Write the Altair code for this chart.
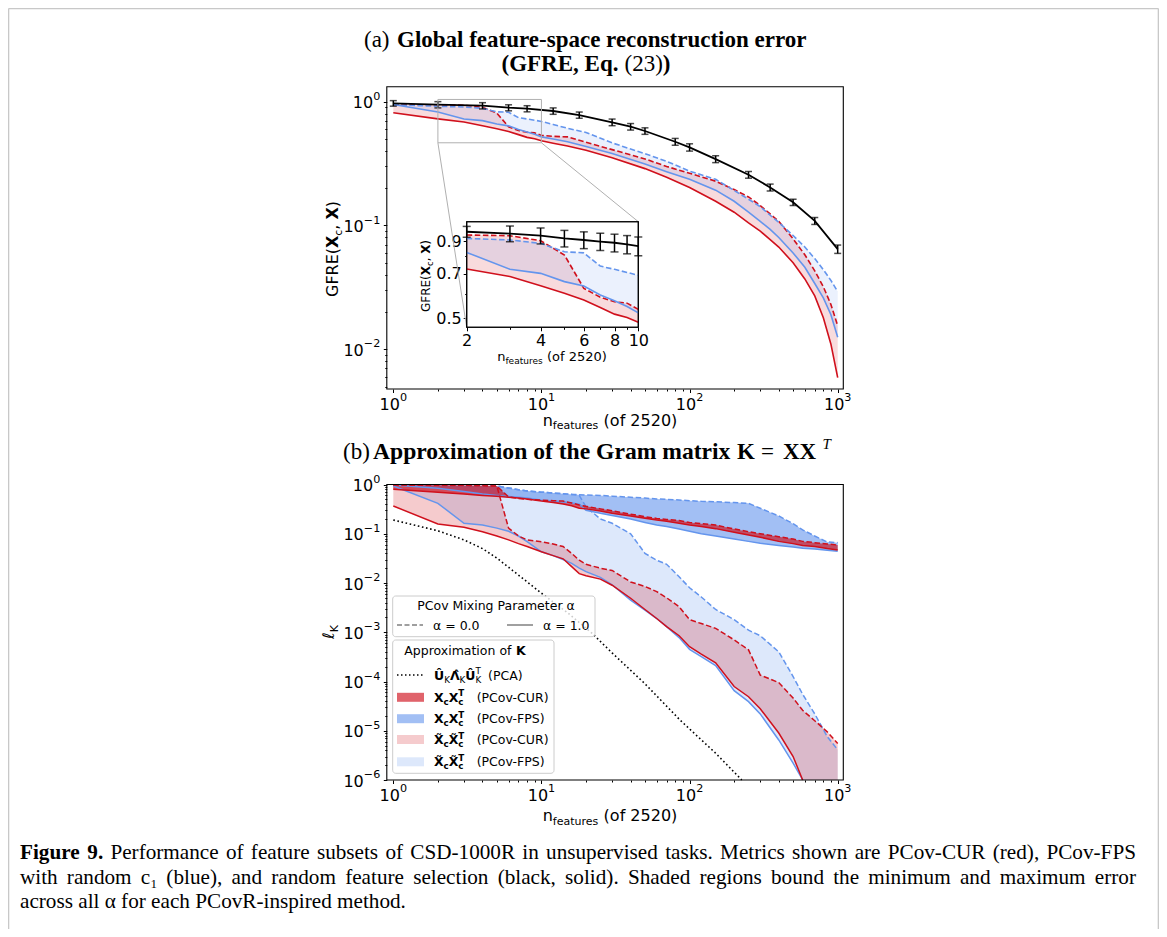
import math
import unicodedata
import altair as alt
import pandas as pd

# ============================ DATA ============================
# ---- panel (a): GFRE, random feature selection (black, with error bars)
n_rand = [1, 2, 4, 6, 8, 12, 18, 30, 40, 50, 80, 100, 150, 250, 350, 500, 700, 1000]
gfre_rand = [0.970, 0.946, 0.928, 0.894, 0.878, 0.841, 0.780, 0.682, 0.628, 0.580,
             0.475, 0.428, 0.344, 0.257, 0.203, 0.154, 0.109, 0.0645]
gfre_rand_err = [0.050, 0.055, 0.054, 0.050, 0.050, 0.050, 0.045, 0.042, 0.038, 0.035,
                 0.030, 0.029, 0.022, 0.016, 0.013, 0.009, 0.007, 0.005]
# inset (zoom on 2..10 features)
n_rand_inset = [2, 3, 4, 5, 6, 7, 8, 9, 10]
gfre_rand_inset = [0.966, 0.952, 0.937, 0.918, 0.907, 0.896, 0.888, 0.877, 0.866]
gfre_rand_inset_err = [0.040, 0.057, 0.057, 0.058, 0.058, 0.059, 0.060, 0.061, 0.062]

# ---- panel (a): PCov-CUR (red) / PCov-FPS (blue), alpha = 1.0 (solid) and 0.0 (dashed)
n_a = [1, 2, 3, 4, 5, 6, 7, 8, 9, 10, 12, 15, 20, 30, 50, 70, 100, 150, 200, 250,
       300, 350, 400, 500, 600, 700, 800, 900, 1000]
gfre_cur_a1 = [0.815, 0.727, 0.686, 0.640, 0.604, 0.574, 0.542, 0.515, 0.502, 0.484,
               0.462, 0.438, 0.405, 0.352, 0.288, 0.245, 0.203, 0.157, 0.128, 0.105,
               0.090, 0.077, 0.067, 0.050, 0.037, 0.027, 0.018, 0.011, 0.0059]
gfre_cur_a0 = [0.945, 0.942, 0.937, 0.902, 0.809, 0.627, 0.586, 0.566, 0.560, 0.534,
               0.525, 0.520, 0.470, 0.410, 0.345, 0.300, 0.264, 0.228, 0.195, 0.170,
               0.145, 0.124, 0.108, 0.078, 0.058, 0.043, 0.032, 0.023, 0.0155]
gfre_fps_a1 = [0.950, 0.825, 0.725, 0.703, 0.660, 0.638, 0.596, 0.570, 0.546, 0.520,
               0.500, 0.475, 0.435, 0.382, 0.314, 0.272, 0.236, 0.193, 0.157, 0.128,
               0.108, 0.093, 0.080, 0.060, 0.046, 0.034, 0.026, 0.019, 0.0125]
gfre_fps_a0 = [0.945, 0.918, 0.907, 0.884, 0.829, 0.822, 0.743, 0.725, 0.708, 0.693,
               0.655, 0.610, 0.565, 0.465, 0.380, 0.330, 0.275, 0.236, 0.192, 0.163,
               0.142, 0.121, 0.106, 0.083, 0.067, 0.054, 0.044, 0.036, 0.0292]

# ---- panel (b): error of the Gram-matrix approximation
n_b = [1, 2, 3, 4, 5, 6, 7, 8, 10, 12, 14, 16, 18, 20, 25, 30, 40, 50, 60, 70, 85, 100,
       120, 150, 200, 250, 300, 400, 500, 580, 700, 850, 1000]
# X_c X_c^T
lk_cur_a1 = [0.80, 0.70, 0.64, 0.60, 0.575, 0.55, 0.53, 0.51, 0.46, 0.43, 0.40, 0.37, 0.33,
             0.32, 0.29, 0.26, 0.23, 0.206, 0.19, 0.18, 0.163, 0.15, 0.14, 0.127, 0.107,
             0.094, 0.085, 0.07, 0.063, 0.058, 0.055, 0.05, 0.047]
lk_cur_a0 = [0.977, 0.96, 0.95, 0.94, 0.93, 0.56, 0.52, 0.50, 0.48, 0.47, 0.46, 0.42, 0.385,
             0.36, 0.32, 0.294, 0.25, 0.222, 0.205, 0.195, 0.185, 0.17, 0.16, 0.15, 0.125,
             0.11, 0.10, 0.087, 0.078, 0.07, 0.066, 0.062, 0.059]
lk_fps_a1 = [0.977, 0.84, 0.72, 0.64, 0.60, 0.57, 0.55, 0.53, 0.48, 0.46, 0.44, 0.42, 0.40,
             0.30, 0.26, 0.235, 0.20, 0.17, 0.15, 0.14, 0.125, 0.112, 0.10, 0.09, 0.078,
             0.07, 0.064, 0.058, 0.054, 0.051, 0.049, 0.046, 0.044]
lk_fps_a0 = [0.977, 0.96, 0.95, 0.94, 0.93, 0.85, 0.78, 0.74, 0.70, 0.67, 0.65, 0.63, 0.62,
             0.61, 0.60, 0.58, 0.55, 0.53, 0.51, 0.50, 0.485, 0.47, 0.455, 0.445, 0.43,
             0.415, 0.33, 0.23, 0.16, 0.12, 0.09, 0.068, 0.066]
# X~_c X~_c^T
lkt_cur_a1 = [0.366, 0.158, 0.135, 0.11, 0.09, 0.075, 0.063, 0.055, 0.043, 0.036, 0.031,
              0.0215, 0.0155, 0.014, 0.012, 0.0090, 0.0049, 0.0029, 0.0019, 0.0013,
              0.00085, 0.00051, 0.00036, 0.00024, 7.9e-5, 4.9e-5, 2.8e-5, 9e-6, 3e-6,
              1e-6, None, None, None]
lkt_fps_a1 = [0.93, 0.415, 0.163, 0.15, 0.13, 0.112, 0.09, 0.069, 0.043, 0.036, 0.030,
              0.025, 0.020, 0.017, 0.013, 0.0092, 0.0045, 0.0028, 0.0019, 0.0013,
              0.00078, 0.00045, 0.00032, 0.00021, 6.5e-5, 3.9e-5, 2.2e-5, 6.5e-6, 2.2e-6,
              1e-6, None, None, None]
lkt_cur_a0 = [0.977, 0.96, 0.95, 0.94, 0.93, 0.13, 0.09, 0.075, 0.069, 0.062, 0.055, 0.040,
              0.029, 0.024, 0.020, 0.018, 0.0105, 0.0085, 0.0067, 0.005, 0.0033, 0.0018,
              0.0015, 0.0012, 0.0007, 0.00044, 0.000135, 9.5e-5, 4.6e-5, 2.6e-5, 1.6e-5,
              9.5e-6, 5.5e-6]
lkt_fps_a0 = [0.977, 0.96, 0.95, 0.94, 0.93, 0.85, 0.78, 0.74, 0.70, 0.67, 0.65, 0.63, 0.60,
              0.35, 0.20, 0.163, 0.10, 0.040, 0.029, 0.024, 0.0134, 0.008, 0.0052, 0.0029,
              0.0018, 0.0011, 0.00085, 0.0004, 0.000126, 5.5e-5, 2.2e-5, 7.6e-6, 4.1e-6]
# PCA reference (black dotted)
n_pca = [1, 2, 3, 4, 5, 7, 10, 15, 22, 30, 50, 86, 150, 225]
lk_pca = [0.19, 0.115, 0.075, 0.05, 0.032, 0.0145, 0.0062, 0.0025, 9.5e-4, 3.8e-4,
          9.0e-5, 1.66e-5, 3.5e-6, 1e-6]

# tick values
dec_x = [1, 10, 100, 1000]
dec_a_y = [0.01, 0.1, 1]
dec_b_y = [1e-6, 1e-5, 1e-4, 1e-3, 1e-2, 1e-1, 1]
inset_x_ticks = [2, 4, 6, 8, 10]
inset_x_minor = [3, 5, 7, 9]
inset_y_ticks = [0.5, 0.7, 0.9]
inset_y_minor = [0.6, 0.8]

# caption text
caption_1 = ['Performance', 'of', 'feature', 'subsets', 'of', 'CSD-1000R', 'in', 'unsupervised',
             'tasks.', 'Metrics', 'shown', 'are', 'PCov-CUR', '(red),', 'PCov-FPS']
caption_2 = ['with', 'random', 'c₁', '(blue),', 'and', 'random', 'feature', 'selection',
             '(black,', 'solid).', 'Shaded', 'regions', 'bound', 'the', 'minimum', 'and',
             'maximum', 'error']
caption_3 = 'across all α for each PCovR-inspired method.'

RED = '#d0101c'
BLUE = '#6495ed'

# ============================ LAYOUT (pixel geometry) ============================
OFF = 8
W, H = 1151, 921


def px(x):
    return x - OFF


def py(y):
    return y - OFF


def log_domain(pa, la, pb, lb, r0, r1):
    k = (lb - la) / (pb - pa)
    return [10 ** (la + (r0 - pa) * k), 10 ** (la + (r1 - pa) * k)]


XL0, XL3 = 393.3, 837.7
AL, AR, AT, AB = 386.8, 843.3, 86.7, 389.0
xdomA = log_domain(XL0, 0, XL3, 3, AL, AR)
ydomA = log_domain(101.7, 0, 349.3, -2, AB, AT)
IL, IR, IT, IB = 466.7, 638.3, 221.7, 327.3
xdomI = [2, 10]
ydomI = log_domain(241.0, math.log10(0.9), 318.0, math.log10(0.5), IB, IT)
BL, BR, BT, BB = 386.8, 843.3, 484.5, 780.0
xdomB = log_domain(XL0, 0, XL3, 3, BL, BR)
ydomB = [1e-6, 1.0]


def a_data_x(p):
    return 10 ** ((p - XL0) * 3 / (XL3 - XL0))


def a_data_y(p):
    return 10 ** (-(p - 101.7) * 2 / (349.3 - 101.7))


def lscale(dom, r0, r1, clamp=False):
    return alt.Scale(type='log', domain=dom, range=[r0, r1], nice=False, clamp=clamp)


xsA, ysA = lscale(xdomA, px(AL), px(AR)), lscale(ydomA, py(AB), py(AT))
xsI, ysI = lscale(xdomI, px(IL), px(IR)), lscale(ydomI, py(IB), py(IT))
xsB, ysB = lscale(xdomB, px(BL), px(BR)), lscale(ydomB, py(BB), py(BT), clamp=True)


def X(f, s, axis=None):
    return alt.X(f, type='quantitative', scale=s, axis=axis)


def Y(f, s, axis=None):
    return alt.Y(f, type='quantitative', scale=s, axis=axis)


def line(df, yf, xs, ys, color, width=1.6, dash=None, xf='n'):
    kw = dict(color=color, strokeWidth=width, strokeCap='butt')
    if dash:
        kw['strokeDash'] = dash
    return alt.Chart(df).mark_line(**kw).encode(x=X(xf, xs), y=Y(yf, ys))


def band(df, lo, hi, xs, ys, color, opacity):
    return alt.Chart(df).mark_area(color=color, opacity=opacity).encode(
        x=X('n', xs), y=Y(lo, ys), y2=alt.Y2(hi))


def errbars(df, xs, ys, cap=7, width=1.4):
    r = alt.Chart(df).mark_rule(color='black', strokeWidth=width).encode(
        x=X('n', xs), y=Y('lo', ys), y2=alt.Y2('hi'))
    c1 = alt.Chart(df).mark_tick(color='black', orient='horizontal', size=cap, thickness=width).encode(
        x=X('n', xs), y=Y('lo', ys))
    c2 = alt.Chart(df).mark_tick(color='black', orient='horizontal', size=cap, thickness=width).encode(
        x=X('n', xs), y=Y('hi', ys))
    return [r, c1, c2]


def axis(orient, offset, values, labels=False, expr=None, size=3.5, pad=2.5, fs=16):
    kw = dict(orient=orient, offset=offset, values=values, domain=False, grid=False, title=None,
              ticks=True, tickSize=size, tickColor='black', tickWidth=1, labels=labels)
    if labels:
        kw.update(labelFont='DejaVu Sans', labelFontSize=fs, labelColor='black', labelPadding=pad,
                  labelOverlap=False, labelFlush=False, labelBound=False)
        if expr:
            kw['labelExpr'] = expr
    return alt.Axis(**kw)


def axis_layer(df, yf, xs, ys, xaxis, yaxis):
    return alt.Chart(df).mark_point(opacity=0).encode(x=X('n', xs, xaxis), y=Y(yf, ys, yaxis))


def minor(decades):
    out = []
    for d in decades:
        out += [k * d for k in range(2, 10)]
    return out


DUMMY = pd.DataFrame({'k': [0]})
FS, FSUP = 16, 11.2


def txt(s, x, y, size=16, bold=False, italic=False, align='left', baseline='alphabetic',
        font='DejaVu Sans', angle=None, color='black'):
    kw = dict(text=s, font=font, fontSize=size, fontWeight='bold' if bold else 'normal',
              align=align, baseline=baseline, color=color)
    if italic:
        kw['fontStyle'] = 'italic'
    if angle is not None:
        kw['angle'] = angle
    return alt.Chart(DUMMY).mark_text(**kw).encode(x=alt.value(px(x)), y=alt.value(py(y)))


def rect(x1, y1, x2, y2, **kw):
    return alt.Chart(DUMMY).mark_rect(**kw).encode(
        x=alt.value(px(x1)), x2=alt.value(px(x2)), y=alt.value(py(y1)), y2=alt.value(py(y2)))


def hrule(x1, x2, y, color, width=1.5, dash=None):
    kw = dict(color=color, strokeWidth=width)
    if dash:
        kw['strokeDash'] = dash
    return alt.Chart(DUMMY).mark_rule(**kw).encode(
        x=alt.value(px(x1)), x2=alt.value(px(x2)), y=alt.value(py(y)))


def vrule(x, y1, y2, color, width=1.5):
    return alt.Chart(DUMMY).mark_rule(color=color, strokeWidth=width).encode(
        x=alt.value(px(x)), y=alt.value(py(y1)), y2=alt.value(py(y2)))


# DejaVu Sans advance widths (em)
WR = {' ': .318, '(': .390, ')': .390, ',': .318, '-': .361, '.': .318, '=': .838, '−': .838,
      'A': .684, 'C': .698, 'E': .632, 'F': .575, 'G': .775, 'K': .656, 'M': .863,
      'P': .603, 'R': .695, 'S': .635, 'T': .611, 'U': .732, 'X': .685,
      'a': .613, 'c': .550, 'e': .615, 'f': .352, 'g': .635, 'i': .278, 'm': .974,
      'n': .634, 'o': .612, 'p': .635, 'r': .411, 's': .521, 't': .392, 'u': .634,
      'v': .592, 'x': .592, 'α': .659, 'ℓ': .42, 'Λ': .684, 'Û': .732}
for _d in '0123456789':
    WR[_d] = .636
WB = {'X': .764, 'U': .812, 'K': .775, 'Λ': .774, 'Û': .812, 'c': .593, 'T': .682}

# Times / Liberation Serif advance widths (em)
TR = dict(zip('abcdefghijklmnopqrstuvwxyz',
              [.444, .5, .444, .5, .444, .333, .5, .5, .278, .278, .5, .278, .778, .5, .5, .5, .5,
               .333, .389, .278, .5, .5, .722, .5, .5, .444]))
TR.update(dict(zip('ABCDEFGHIJKLMNOPQRSTUVWXYZ',
                   [.722, .667, .667, .722, .611, .556, .722, .722, .333, .389, .722, .611, .889,
                    .722, .722, .556, .722, .667, .556, .611, .722, .722, .944, .722, .722, .611])))
TR.update({' ': .25, '(': .333, ')': .333, ',': .25, '-': .333, '.': .25, '₁': .33, 'α': .5})
for _d in '0123456789':
    TR[_d] = .5
TBOLD = {'F': .611, 'i': .278, 'g': .5, 'u': .556, 'r': .444, 'e': .444, '9': .5, '.': .25}


def tw(s, size, bold=False):
    t = 0.0
    for ch in s:
        if unicodedata.combining(ch):
            continue
        w = WB.get(ch) if bold else None
        t += w if w else WR.get(ch, 0.6)
    return t * size


def tw_serif(s, size, bold=False):
    return sum((TBOLD.get(ch) if bold else None) or TR.get(ch, 0.5) for ch in s) * size


def justify(tokens, x0, x1, y, size, font):
    widths = [tw_serif(t, size, b) for t, b in tokens]
    gap = (x1 - x0 - sum(widths)) / (len(tokens) - 1)
    out, x = [], x0
    for (t, b), w in zip(tokens, widths):
        out.append(txt(t, x, y, size, bold=b, font=font))
        x += w + gap
    return out


def seg(s, size, bold=False, shift=0.0, advance=True):
    return dict(s=s, size=size, bold=bold, shift=shift, advance=advance)


def rich(segs, x, y, align='left', vertical=False):
    widths = [tw(g['s'], g['size'], g['bold']) if g['advance'] else 0.0 for g in segs]
    total = sum(widths)
    out = []
    cum = 0.0
    if vertical:
        start = y + total / 2 if align == 'center' else y
    else:
        start = x - total / 2 if align == 'center' else x
    for g, w in zip(segs, widths):
        s = g['s']
        lead = tw(s[:len(s) - len(s.lstrip(' '))], g['size'], g['bold'])
        s = s.strip(' ')
        if s:
            if vertical:
                out.append(txt(s, x + g['shift'], start - cum - lead, size=g['size'],
                               bold=g['bold'], angle=270))
            else:
                out.append(txt(s, start + cum + lead, y + g['shift'], size=g['size'], bold=g['bold']))
        cum += w
    return out


def exp_str(v):
    e = int(round(math.log10(v)))
    return str(e) if e >= 0 else '−' + str(-e)


def ylabels_dec(values, ys, right_x):
    """matplotlib-like 10^k labels on a left axis (right-aligned at right_x)."""
    out = []
    widths = {}
    for v in values:
        widths.setdefault(round(tw(exp_str(v), FSUP), 2), []).append(v)
    for w, vals in widths.items():
        df = pd.DataFrame({'v': vals, 't': [exp_str(v) for v in vals]})
        out.append(alt.Chart(df).mark_text(text='10', align='right', baseline='middle', fontSize=FS,
                                           font='DejaVu Sans', color='black', dy=1.5).encode(
            x=alt.value(px(right_x - w)), y=Y('v', ys)))
        out.append(alt.Chart(df).mark_text(align='left', baseline='middle', fontSize=FSUP,
                                           font='DejaVu Sans', color='black', dy=-5).encode(
            x=alt.value(px(right_x - w)), y=Y('v', ys), text=alt.Text('t:N')))
    return out


def xlabels_dec(values, xs, yc):
    w10 = tw('10', FS)
    we = tw('0', FSUP)
    left = -(w10 + we) / 2
    df = pd.DataFrame({'v': values, 't': [exp_str(v) for v in values]})
    a = alt.Chart(df).mark_text(text='10', align='left', baseline='middle', fontSize=FS,
                                font='DejaVu Sans', color='black', dx=left).encode(
        x=X('v', xs), y=alt.value(py(yc)))
    b = alt.Chart(df).mark_text(align='left', baseline='middle', fontSize=FSUP,
                                font='DejaVu Sans', color='black', dx=left + w10).encode(
        x=X('v', xs), y=alt.value(py(yc - 6.5)), text=alt.Text('t:N'))
    return [a, b]


def gfre_label(size, sub):
    return [seg('GFRE(', size), seg('X', size, True), seg('c', sub, False, size * 0.26),
            seg(', ', size), seg('X', size, True), seg(')', size)]


def nfeat_label(size, sub):
    return [seg('n', size), seg('features', sub, False, size * 0.22), seg(' (of 2520)', size)]


# ============================ DATAFRAMES ============================
df_a = pd.DataFrame({'n': n_a, 'cur1': gfre_cur_a1, 'cur0': gfre_cur_a0,
                     'fps1': gfre_fps_a1, 'fps0': gfre_fps_a0})
df_ai = df_a[(df_a['n'] >= 2) & (df_a['n'] <= 10)].reset_index(drop=True)
df_r = pd.DataFrame({'n': n_rand, 'v': gfre_rand})
df_r['lo'] = df_r['v'] - pd.Series(gfre_rand_err)
df_r['hi'] = df_r['v'] + pd.Series(gfre_rand_err)
df_ri = pd.DataFrame({'n': n_rand_inset, 'v': gfre_rand_inset})
df_ri['lo'] = df_ri['v'] - pd.Series(gfre_rand_inset_err)
df_ri['hi'] = df_ri['v'] + pd.Series(gfre_rand_inset_err)

df_b = pd.DataFrame({'n': n_b, 'c1': lk_cur_a1, 'c0': lk_cur_a0, 'f1': lk_fps_a1, 'f0': lk_fps_a0,
                     'tc1': lkt_cur_a1, 'tc0': lkt_cur_a0, 'tf1': lkt_fps_a1, 'tf0': lkt_fps_a0})
df_b['tc1_fill'] = df_b['tc1'].fillna(ydomB[0])
df_b['tf1_fill'] = df_b['tf1'].fillna(ydomB[0])
df_pca = pd.DataFrame({'n': n_pca, 'v': lk_pca})

DASH = [5.5, 2.6]
layers = []

# ---- figure frame
layers += [vrule(8.6, 8.6, 937, '#c8c8c8', 1.4), vrule(1158.4, 8.6, 937, '#c8c8c8', 1.4),
           hrule(8.6, 1158.4, 8.6, '#c8c8c8', 1.4)]

# ---- panel titles (serif, LaTeX-like)
SERIF = 'Liberation Serif'
TF = 23
layers += [txt('(a)', 364, 47, TF, font=SERIF),
           txt('Global feature-space reconstruction error', 397, 47, TF, bold=True, font=SERIF),
           txt('(GFRE, Eq.', 501.5, 71, TF, bold=True, font=SERIF),
           txt('(23)', 624.5, 71, TF, font=SERIF),
           txt(')', 662.8, 71, TF, bold=True, font=SERIF),
           txt('(b)', 343, 459, TF, font=SERIF),
           txt('Approximation of the Gram matrix', 373, 459, 23.6, bold=True, font=SERIF),
           txt('K', 737, 459, TF, bold=True, font=SERIF),
           txt('=', 761, 459, TF, font=SERIF),
           txt('XX', 783, 459, TF, bold=True, font=SERIF),
           txt('T', 822.5, 449, 15, italic=True, font=SERIF)]

# ---- panel (a) main
layers += [band(df_a, 'cur1', 'cur0', xsA, ysA, RED, 0.15),
           band(df_a, 'fps1', 'fps0', xsA, ysA, BLUE, 0.13),
           line(df_a, 'cur1', xsA, ysA, RED),
           line(df_a, 'cur0', xsA, ysA, RED, dash=DASH),
           line(df_a, 'fps1', xsA, ysA, BLUE),
           line(df_a, 'fps0', xsA, ysA, BLUE, dash=DASH),
           line(df_r, 'v', xsA, ysA, 'black', 1.8)]
layers += errbars(df_r, xsA, ysA, cap=7, width=1.5)
zoom_df = pd.DataFrame({'x0': [xdomI[0]], 'x1': [xdomI[1]], 'y0': [ydomI[0]], 'y1': [ydomI[1]]})
layers.append(alt.Chart(zoom_df).mark_rect(fillOpacity=0, stroke='#b0b0b0', strokeWidth=1).encode(
    x=X('x0', xsA), x2='x1', y=Y('y0', ysA), y2='y1'))
conn_df = pd.DataFrame({'x0': [xdomI[0], xdomI[1]], 'y0': [ydomI[0], ydomI[0]],
                        'x1': [a_data_x(IL), a_data_x(IR)], 'y1': [a_data_y(IB), a_data_y(IT)]})
layers.append(alt.Chart(conn_df).mark_rule(color='#b0b0b0', strokeWidth=1).encode(
    x=X('x0', xsA), x2='x1', y=Y('y0', ysA), y2='y1'))
layers.append(rect(AL, AT, AR, AB, fillOpacity=0, stroke='black', strokeWidth=1.1))
layers.append(axis_layer(df_a, 'cur1', xsA, ysA,
                         axis('bottom', py(AB) - H, dec_x),
                         axis('left', -px(AL), dec_a_y)))
layers.append(axis_layer(df_a, 'cur1', xsA, ysA,
                         axis('bottom', py(AB) - H, minor([1, 10, 100]), size=2),
                         axis('left', -px(AL), [v for v in minor([0.001, 0.01, 0.1]) if v > ydomA[0]],
                              size=2)))
layers += xlabels_dec(dec_x, xsA, AB + 15.5)
layers += ylabels_dec(dec_a_y, ysA, AL - 6.5)
layers += rich(nfeat_label(16, 11), 610, 425.5, align='center')
layers += rich(gfre_label(16, 11), 338, 249, align='center', vertical=True)

# ---- inset
layers.append(rect(IL, IT, IR, IB, fill='white', stroke='black', strokeWidth=1.1))
layers += [band(df_ai, 'cur1', 'cur0', xsI, ysI, RED, 0.15),
           band(df_ai, 'fps1', 'fps0', xsI, ysI, BLUE, 0.13),
           line(df_ai, 'cur1', xsI, ysI, RED),
           line(df_ai, 'cur0', xsI, ysI, RED, dash=DASH),
           line(df_ai, 'fps1', xsI, ysI, BLUE),
           line(df_ai, 'fps0', xsI, ysI, BLUE, dash=DASH),
           line(df_ri, 'v', xsI, ysI, 'black', 1.8)]
layers += errbars(df_ri, xsI, ysI, cap=8, width=1.5)
layers.append(rect(IL, IT, IR, IB, fillOpacity=0, stroke='black', strokeWidth=1.1))
layers.append(axis_layer(df_ai, 'cur1', xsI, ysI,
                         axis('bottom', py(IB) - H, inset_x_ticks, labels=True,
                              expr="format(datum.value, 'd')", pad=2),
                         axis('left', -px(IL), inset_y_ticks, labels=True,
                              expr="format(datum.value, '.1f')", pad=2)))
layers.append(axis_layer(df_ai, 'cur1', xsI, ysI,
                         axis('bottom', py(IB) - H, inset_x_minor, size=2),
                         axis('left', -px(IL), inset_y_minor, size=2)))
layers += rich(nfeat_label(13, 9), 552, 361, align='center')
layers += rich(gfre_label(12, 8.4), 429.5, 276, align='center', vertical=True)

# ---- panel (b)
layers += [band(df_b, 'tf1_fill', 'tf0', xsB, ysB, BLUE, 0.22),
           band(df_b, 'tc1_fill', 'tc0', xsB, ysB, RED, 0.22),
           band(df_b, 'f1', 'f0', xsB, ysB, BLUE, 0.6),
           band(df_b, 'c1', 'c0', xsB, ysB, RED, 0.65),
           line(df_pca, 'v', xsB, ysB, 'black', 1.6, dash=[1.6, 2.6]),
           line(df_b, 'tf1', xsB, ysB, BLUE, 1.5),
           line(df_b, 'tf0', xsB, ysB, BLUE, 1.5, dash=DASH),
           line(df_b, 'f1', xsB, ysB, BLUE, 1.5),
           line(df_b, 'f0', xsB, ysB, BLUE, 1.5, dash=DASH),
           line(df_b, 'tc1', xsB, ysB, RED, 1.5),
           line(df_b, 'tc0', xsB, ysB, RED, 1.5, dash=DASH),
           line(df_b, 'c1', xsB, ysB, RED, 1.5),
           line(df_b, 'c0', xsB, ysB, RED, 1.5, dash=DASH)]
layers.append(rect(BL, BT, BR, BB, fillOpacity=0, stroke='black', strokeWidth=1.1))
layers.append(axis_layer(df_b, 'c1', xsB, ysB,
                         axis('bottom', py(BB) - H, dec_x),
                         axis('left', -px(BL), dec_b_y)))
layers.append(axis_layer(df_b, 'c1', xsB, ysB,
                         axis('bottom', py(BB) - H, minor([1, 10, 100]), size=2),
                         axis('left', -px(BL), minor([1e-6, 1e-5, 1e-4, 1e-3, 1e-2, 1e-1]), size=2)))
layers += xlabels_dec(dec_x, xsB, BB + 15.5)
layers += ylabels_dec(dec_b_y, ysB, BL - 6.5)
layers += rich(nfeat_label(16, 11), 610, 821, align='center')
layers += rich([seg('ℓ', 16), seg('K', 11, False, 4)], 334, 632, align='center', vertical=True)

# ---- legends (panel b)
LF = 12.5
LS = 8.75
layers.append(rect(392.7, 596.0, 595.0, 636.7, fill='white', fillOpacity=0.8, stroke='#cccccc',
                   strokeWidth=1, cornerRadius=3))
layers.append(txt('PCov Mixing Parameter α', 496, 610.2, LF, align='center'))
layers.append(hrule(397, 423, 625, '#808080', 1.5, [5, 2.5]))
layers.append(txt('α =  0.0', 433, 629.5, LF))
layers.append(hrule(507, 533, 625, '#808080', 1.5))
layers.append(txt('α =  1.0', 543, 629.5, LF))

layers.append(rect(392.7, 640.0, 554.0, 773.3, fill='white', fillOpacity=0.8, stroke='#cccccc',
                   strokeWidth=1, cornerRadius=3))
layers += rich([seg('Approximation of ', LF), seg('K', LF, True)], 465, 655.2, align='center')
layers.append(hrule(397, 423, 675, 'black', 1.5, [1.5, 2.5]))
layers += rich([seg('Û', LF, True), seg('K', LS, False, 3), seg('Λ̂', LF, True),
                seg('K', LS, False, 3), seg('Û', LF, True), seg('K', LS, False, 3, advance=False),
                seg('T', LS, False, -5.5)], 434, 679.5)
layers.append(txt('(PCA)', 488, 679.5, LF))
rows = [(697.3, RED, 0.65, 'X', 'PCov-CUR'), (718.7, BLUE, 0.6, 'X', 'PCov-FPS'),
        (739.5, RED, 0.22, 'X̃', 'PCov-CUR'), (761.8, BLUE, 0.22, 'X̃', 'PCov-FPS')]
for yc, col, op, sym, name in rows:
    layers.append(rect(397, yc - 4.5, 424, yc + 4.5, fill=col, opacity=op))
    layers += rich([seg(sym, LF, True), seg('c', LS, True, 3), seg(sym, LF, True),
                    seg('c', LS, True, 3, advance=False), seg('T', LS, True, -5.5)], 434, yc + 4.5)
    layers.append(txt('(' + name + ')', 476.7, yc + 4.5, LF))

# ---- caption (justified lines 1-2, like the journal layout)
CF = 21.2
layers += justify([('Figure', True), ('9.', True)] + [(w, False) for w in caption_1],
                  20, 1136, 859, CF, SERIF)
layers += justify([(w, False) for w in caption_2], 20, 1136, 883.5, CF, SERIF)
layers.append(txt(caption_3, 20, 908, CF, font=SERIF))

chart = alt.layer(*layers).resolve_scale(x='independent', y='independent').properties(
    width=W, height=H, autosize='none', padding=0
).configure_view(stroke=None)

chart.save("out.html", embed_options={"renderer": "svg", "actions": False})
